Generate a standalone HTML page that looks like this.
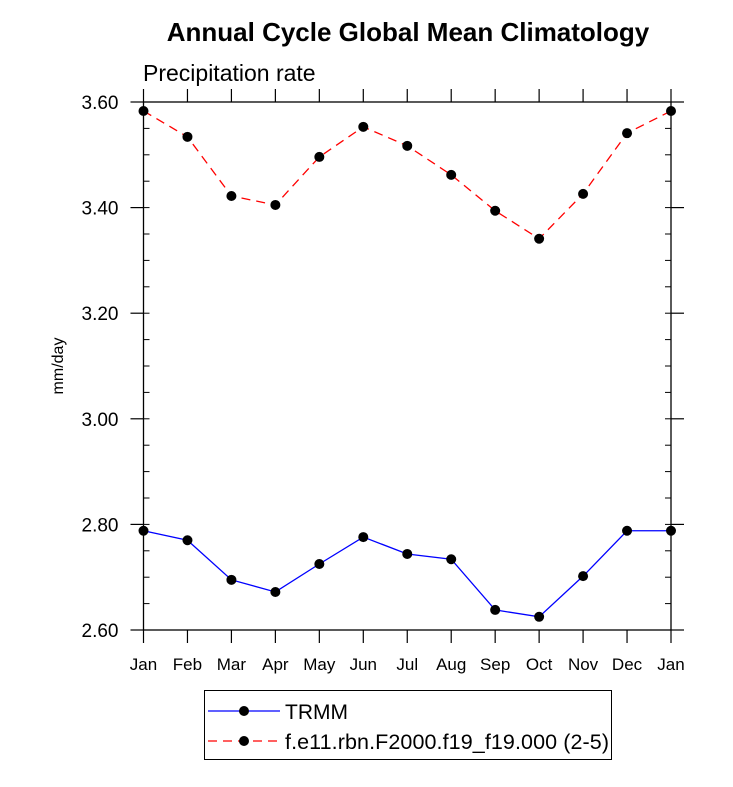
<!DOCTYPE html>
<html><head><meta charset="utf-8"><style>
body{margin:0;background:#fff;font-family:"Liberation Sans",sans-serif}
</style></head><body>
<svg id="chart" width="733" height="782" xmlns="http://www.w3.org/2000/svg" font-family="Liberation Sans, sans-serif">
<text x="408" y="41" text-anchor="middle" font-size="26" font-weight="bold">Annual Cycle Global Mean Climatology</text>
<text x="143" y="81" font-size="23">Precipitation rate</text>
<text transform="translate(63,366) rotate(-90)" text-anchor="middle" font-size="16">mm/day</text>
<g id="axes"></g><g id="series"></g>
<g>
<rect x="204.5" y="690.5" width="407" height="69" fill="#fff" stroke="#000" stroke-width="1"/>
<line x1="208" y1="711" x2="280" y2="711" stroke="#00f" stroke-width="1.3"/>
<circle cx="244" cy="711" r="5" fill="#000"/>
<text x="285" y="719" font-size="21">TRMM</text>
<line x1="208" y1="741" x2="280" y2="741" stroke="#f00" stroke-width="1.3" stroke-dasharray="9,6"/>
<circle cx="244" cy="741" r="5" fill="#000"/>
<text x="285" y="749" font-size="21.5" textLength="324">f.e11.rbn.F2000.f19_f19.000 (2-5)</text>
</g>
</svg>
<script>
const months=["Jan","Feb","Mar","Apr","May","Jun","Jul","Aug","Sep","Oct","Nov","Dec","Jan"];
const trmm=[2.788,2.770,2.695,2.672,2.725,2.776,2.744,2.734,2.638,2.625,2.702,2.788,2.788];
const model=[3.583,3.534,3.422,3.405,3.496,3.553,3.517,3.462,3.394,3.341,3.426,3.541,3.583];
const yTicks=[2.6,2.8,3.0,3.2,3.4,3.6];
const yTickLabels=["2.60","2.80","3.00","3.20","3.40","3.60"];
const NS="http://www.w3.org/2000/svg";
const L=143.5,R=671,T=102,B=630,ymin=2.6,ymax=3.6;
const xs=i=>L+(R-L)*i/(months.length-1);
const ys=v=>B-(v-ymin)/(ymax-ymin)*(B-T);
function mk(t,a,p){const e=document.createElementNS(NS,t);for(const k in a)e.setAttribute(k,a[k]);p.appendChild(e);return e;}
const ax=document.getElementById('axes');
const frame=mk('rect',{x:L,y:T,width:R-L,height:B-T,fill:'none',stroke:'#000','stroke-width':1.3},ax);


months.forEach((m,i)=>{const x=xs(i);
mk('line',{x1:x,y1:B,x2:x,y2:B+13,stroke:'#000','stroke-width':1.2},ax);
mk('line',{x1:x,y1:T,x2:x,y2:T-13,stroke:'#000','stroke-width':1.2},ax);
const t=mk('text',{x:x,y:B+40,'text-anchor':'middle','font-size':17},ax);t.textContent=m;

});
yTicks.forEach((v,i)=>{const y=ys(v);
mk('line',{x1:L-13,y1:y,x2:L,y2:y,stroke:'#000','stroke-width':1.2},ax);
mk('line',{x1:R,y1:y,x2:R+13,y2:y,stroke:'#000','stroke-width':1.2},ax);
const t=mk('text',{x:L-25,y:y+7,'text-anchor':'end','font-size':19},ax);t.textContent=yTickLabels[i];

});
for(let v=ymin;v<ymax-1e-6;v+=0.05){const y=ys(v);
mk('line',{x1:L,y1:y,x2:L+6,y2:y,stroke:'#000','stroke-width':1},ax);
mk('line',{x1:R-6,y1:y,x2:R,y2:y,stroke:'#000','stroke-width':1},ax);}
const sg=document.getElementById('series');
function draw(d,col,dash,name){
const pl=mk('polyline',{points:d.map((v,i)=>xs(i)+','+ys(v)).join(' '),fill:'none',stroke:col,'stroke-width':1.3,'stroke-dasharray':dash},sg);


d.forEach((v,i)=>{const c=mk('circle',{cx:xs(i),cy:ys(v),r:5,fill:'#000'},sg);

});}
draw(trmm,'#00f','none','trmm');
draw(model,'#f00','9,6','model');
</script>
</body></html>
